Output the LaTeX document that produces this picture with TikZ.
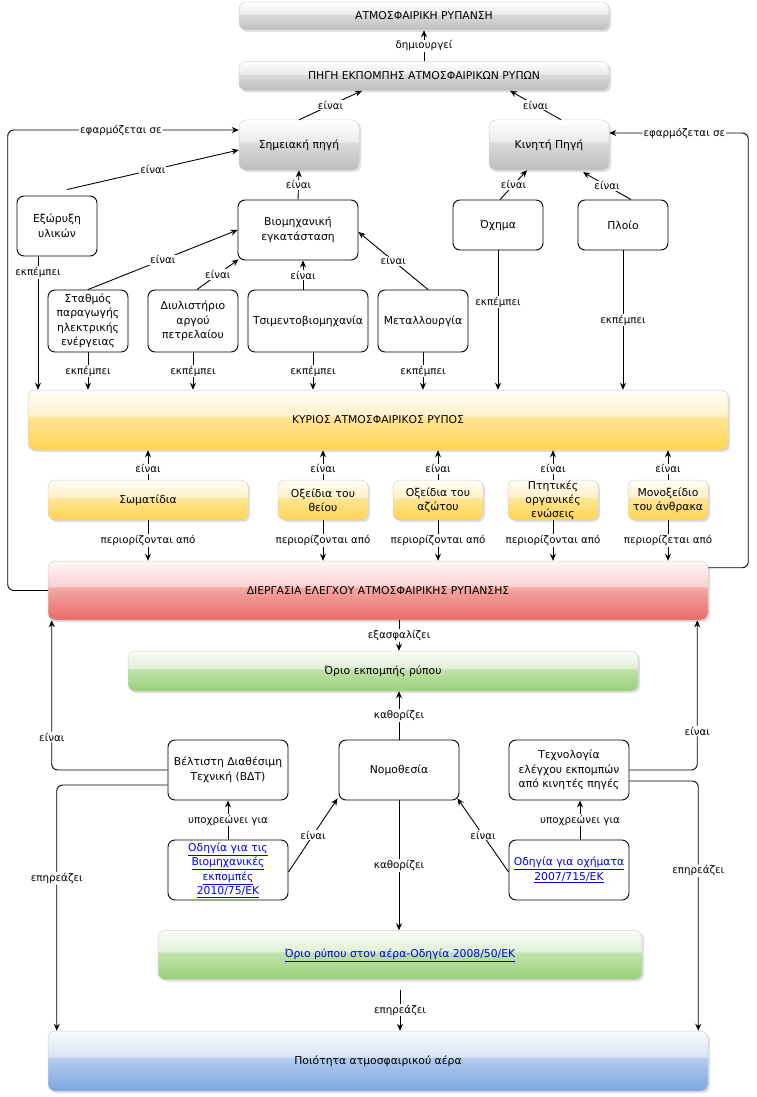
\documentclass[tikz,border=0pt]{standalone}
\usepackage{fontspec}
\setmainfont{DejaVu Sans}
\usetikzlibrary{arrows.meta,shadows,calc}
\definecolor{cgray}{HTML}{BDBDBD}
\definecolor{cyel}{HTML}{FFD44F}
\definecolor{cred}{HTML}{EA6B66}
\definecolor{cgrn}{HTML}{97D077}
\definecolor{cblu}{HTML}{7EA6E0}
\definecolor{lnk}{HTML}{0000EE}
\pgfdeclareverticalshading{glgray}{100bp}{color(0bp)=(cgray); color(25bp)=(cgray); color(52bp)=(cgray!55!white); color(54bp)=(cgray!30!white); color(75bp)=(white); color(100bp)=(white)}
\pgfdeclareverticalshading{glyel}{100bp}{color(0bp)=(cyel); color(25bp)=(cyel); color(52bp)=(cyel!60!white); color(54bp)=(cyel!30!white); color(75bp)=(cyel!5!white); color(100bp)=(cyel!5!white)}
\pgfdeclareverticalshading{glred}{100bp}{color(0bp)=(cred); color(25bp)=(cred); color(52bp)=(cred!60!white); color(54bp)=(cred!30!white); color(75bp)=(cred!5!white); color(100bp)=(cred!5!white)}
\pgfdeclareverticalshading{glgrn}{100bp}{color(0bp)=(cgrn); color(25bp)=(cgrn); color(52bp)=(cgrn!60!white); color(54bp)=(cgrn!30!white); color(75bp)=(cgrn!5!white); color(100bp)=(cgrn!5!white)}
\pgfdeclareverticalshading{glblu}{100bp}{color(0bp)=(cblu); color(25bp)=(cblu); color(52bp)=(cblu!60!white); color(54bp)=(cblu!30!white); color(75bp)=(cblu!5!white); color(100bp)=(cblu!5!white)}
\newcommand{\bxfont}{\fontsize{10.8}{14.5}\selectfont}
\newcommand{\gxfont}{\fontsize{10.8}{14}\selectfont}
\newcommand{\lbfont}{\fontsize{10.3}{12}\selectfont}
\newcommand{\lk}[1]{\textcolor{lnk}{\underline{#1}}}
\tikzset{
  wbox/.style={draw=black, line width=0.9pt, rounded corners=7pt, fill=white,
    align=center, font=\bxfont, inner sep=0.5pt},
  gbox/.style={shading=#1, draw=gray!35, line width=0.5pt, rounded corners=7pt,
    align=center, font=\gxfont, inner sep=0.5pt,
    drop shadow={shadow xshift=2pt, shadow yshift=-2pt, opacity=0.25, fill=gray}},
  arr/.style={draw=black, line width=0.9pt, -{Stealth[length=7pt,width=6pt]}},
  lbl/.style={fill=white, inner sep=1pt, font=\lbfont},
}
\begin{document}
\begin{tikzpicture}[x=1pt,y=-1pt]
\useasboundingbox (0,0) rectangle (757,1097);
\fill[white] (0,0) rectangle (757,1097);

% top boxes
\node[gbox=glgray, minimum width=370pt, minimum height=28pt] (atm) at (424,16) {ΑΤΜΟΣΦΑΙΡΙΚΗ ΡΥΠΑΝΣΗ};
\node[gbox=glgray, minimum width=370pt, minimum height=29pt] (pigi) at (424,76) {ΠΗΓΗ ΕΚΠΟΜΠΗΣ ΑΤΜΟΣΦΑΙΡΙΚΩΝ ΡΥΠΩΝ};
\node[gbox=glgray, minimum width=120pt, minimum height=50pt] (simeiaki) at (299,145) {Σημειακή πηγή};
\node[gbox=glgray, minimum width=120pt, minimum height=50pt] (kiniti) at (549,145) {Κινητή Πηγή};

% white boxes row 2
\node[wbox, minimum width=80pt, minimum height=60pt] (exoryxi) at (57,226) {Εξώρυξη\\υλικών};
\node[wbox, minimum width=120pt, minimum height=60pt] (viom) at (298,230) {Βιομηχανική\\εγκατάσταση};
\node[wbox, minimum width=90pt, minimum height=50pt] (ochima) at (498,225) {Όχημα};
\node[wbox, minimum width=90pt, minimum height=50pt] (ploio) at (623,225) {Πλοίο};

% row 3
\node[wbox, minimum width=80pt, minimum height=62pt] (stathmos) at (88,321) {Σταθμός\\παραγωγής\\ηλεκτρικής\\ενέργειας};
\node[wbox, minimum width=90pt, minimum height=62pt] (diylist) at (193,321) {Διυλιστήριο\\αργού\\πετρελαίου};
\node[wbox, minimum width=120pt, minimum height=62pt] (tsim) at (308,321) {Τσιμεντοβιομηχανία};
\node[wbox, minimum width=90pt, minimum height=62pt] (metal) at (423,321) {Μεταλλουργία};

% main pollutant
\node[gbox=glyel, minimum width=700pt, minimum height=60pt] (kyrios) at (378,420) {ΚΥΡΙΟΣ ΑΤΜΟΣΦΑΙΡΙΚΟΣ ΡΥΠΟΣ};

% pollutants
\node[gbox=glyel, minimum width=200pt, minimum height=40pt] (som) at (148,500) {Σωματίδια};
\node[gbox=glyel, minimum width=90pt, minimum height=40pt] (thei) at (323,500) {Οξείδια του\\θείου};
\node[gbox=glyel, minimum width=90pt, minimum height=40pt] (azot) at (438,500) {Οξείδια του\\αζώτου};
\node[gbox=glyel, minimum width=90pt, minimum height=40pt] (ptit) at (553,500) {Πτητικές\\οργανικές\\ενώσεις};
\node[gbox=glyel, minimum width=80pt, minimum height=40pt] (mono) at (668,500) {Μονοξείδιο\\του άνθρακα};

% control process
\node[gbox=glred, minimum width=660pt, minimum height=59pt] (dierg) at (378,590.5) {ΔΙΕΡΓΑΣΙΑ ΕΛΕΓΧΟΥ ΑΤΜΟΣΦΑΙΡΙΚΗΣ ΡΥΠΑΝΣΗΣ};

\node[gbox=glgrn, minimum width=510pt, minimum height=40pt] (orio) at (383,671) {Όριο εκπομπής ρύπου};

\node[wbox, minimum width=120pt, minimum height=60pt] (vdt) at (228,770) {Βέλτιστη Διαθέσιμη\\Τεχνική (ΒΔΤ)};
\node[wbox, minimum width=120pt, minimum height=60pt] (nomo) at (399,770) {Νομοθεσία};
\node[wbox, minimum width=120pt, minimum height=60pt] (tech) at (569,770) {Τεχνολογία\\ελέγχου εκπομπών\\από κινητές πηγές};

\node[wbox, minimum width=120pt, minimum height=60pt] (odviom) at (228,870) {\lk{Οδηγία για τις}\\\lk{Βιομηχανικές}\\\lk{εκπομπές}\\\lk{2010/75/ΕΚ}};
\node[wbox, minimum width=120pt, minimum height=60pt] (odoch) at (569,870) {\lk{Οδηγία για οχήματα}\\\lk{2007/715/ΕΚ}};

\node[gbox=glgrn, minimum width=484pt, minimum height=49pt] (orioaera) at (400,955) {\lk{Όριο ρύπου στον αέρα-Οδηγία 2008/50/ΕΚ}};

\node[gbox=glblu, minimum width=660pt, minimum height=60pt] (poiot) at (378,1061) {Ποιότητα ατμοσφαιρικού αέρα};

% ---- connectors
\draw[arr] (pigi.north) -- node[lbl]{δημιουργεί} (atm.south);
\draw[arr] (simeiaki.north) -- node[lbl]{είναι} ([xshift=-62pt]pigi.south);
\draw[arr] ([xshift=12pt]kiniti.north) -- node[lbl]{είναι} ([xshift=86pt]pigi.south);

\draw[arr, rounded corners=6pt] (dierg.west) -- ++(-40,0) |- node[lbl,pos=0.745]{εφαρμόζεται σε} ([yshift=15pt]simeiaki.west);
\draw[arr, rounded corners=6pt] ([yshift=-7pt]dierg.north east) -- ++(40,0) |- node[lbl,pos=0.73]{εφαρμόζεται σε} ([yshift=12pt]kiniti.east);

\draw[arr] ([xshift=10pt,yshift=6pt]exoryxi.north) -- node[lbl]{είναι} ([yshift=-5pt]simeiaki.west);
\draw[arr] (viom.north) -- node[lbl]{είναι} (simeiaki.south);
\draw[arr] ([xshift=2pt]ochima.north) -- node[lbl]{είναι} ([xshift=-22pt]kiniti.south);
\draw[arr] ([xshift=8pt]ploio.north) -- node[lbl]{είναι} ([xshift=34pt,yshift=-2pt]kiniti.south);

\draw[arr] (stathmos.north) -- node[lbl]{είναι} (viom.west);
\draw[arr] ([xshift=4pt]diylist.north) -- node[lbl]{είναι} ([xshift=1pt,yshift=1pt]viom.south west);
\draw[arr] ([xshift=-5pt]tsim.north) -- node[lbl]{είναι} ([xshift=5pt]viom.south);
\draw[arr] ([xshift=5pt]metal.north) -- node[lbl]{είναι} ([yshift=-2pt]viom.east);

% emits
\draw[arr] ([xshift=-19pt]exoryxi.south) coordinate (e1) -- node[lbl,pos=0.12]{εκπέμπει} (e1 |- kyrios.north);
\draw[arr] (stathmos.south) -- node[lbl]{εκπέμπει} (stathmos.south |- kyrios.north);
\draw[arr] (diylist.south) -- node[lbl]{εκπέμπει} (diylist.south |- kyrios.north);
\draw[arr] ([xshift=5pt]tsim.south) coordinate (e4) -- node[lbl]{εκπέμπει} (e4 |- kyrios.north);
\draw[arr] (metal.south) -- node[lbl]{εκπέμπει} (metal.south |- kyrios.north);
\draw[arr] (ochima.south) -- node[lbl,pos=0.37]{εκπέμπει} (ochima.south |- kyrios.north);
\draw[arr] (ploio.south) -- node[lbl,pos=0.5]{εκπέμπει} (ploio.south |- kyrios.north);

% pollutants are / limited by
\foreach \n/\t in {som/περιορίζονται από, thei/περιορίζονται από, azot/περιορίζονται από, ptit/περιορίζονται από, mono/περιορίζεται από}{
  \draw[arr] (\n.north) -- node[lbl,pos=0.37]{είναι} (\n.north |- kyrios.south);
  \draw[arr] (\n.south) -- node[lbl]{\t} (\n.south |- dierg.north);
}

% lower part
\draw[arr] ([xshift=21pt]dierg.south) coordinate (d1) -- node[lbl]{εξασφαλίζει} (d1 |- orio.north);
\draw[arr] (nomo.north) -- node[lbl]{καθορίζει} (nomo.north |- orio.south);
\draw[arr] (nomo.south) -- node[lbl]{καθορίζει} (nomo.south |- orioaera.north);
\draw[arr] ([yshift=-10pt]orioaera.south) coordinate (o1) -- node[lbl]{επηρεάζει} (o1 |- poiot.north);

\draw[arr, rounded corners=6pt] (vdt.west) -| node[lbl,pos=0.61]{είναι} ([xshift=4pt]dierg.south west);
\draw[arr, rounded corners=6pt] ([yshift=-15pt]vdt.west) -| node[lbl,pos=0.69]{επηρεάζει} ([xshift=9pt]poiot.north west);
\draw[arr, rounded corners=6pt] (tech.east) -| node[lbl,pos=0.63]{είναι} ([xshift=-11pt]dierg.south east);
\draw[arr, rounded corners=6pt] ([yshift=-11pt]tech.east) -| node[lbl,pos=0.68]{επηρεάζει} ([xshift=-10pt]poiot.north east);

\draw[arr] (odviom.north) -- node[lbl]{υποχρεώνει για} (vdt.south);
\draw[arr] ([xshift=11pt]odoch.north) -- node[lbl]{υποχρεώνει για} ([xshift=11pt]tech.south);
\draw[arr] ([yshift=-2pt]odviom.east) -- node[lbl]{είναι} ([xshift=-1pt,yshift=2pt]nomo.south west);
\draw[arr] ([yshift=-2pt]odoch.west) -- node[lbl]{είναι} ([xshift=-2pt,yshift=2pt]nomo.south east);
\end{tikzpicture}
\end{document}
